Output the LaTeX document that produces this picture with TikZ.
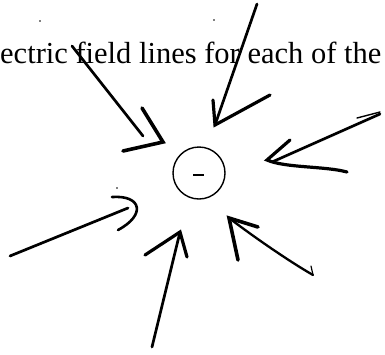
\documentclass[tikz,border=0pt]{standalone}
\usepackage{fontspec}
\setmainfont{Liberation Serif}
\usetikzlibrary{positioning}

\begin{document}
\begin{tikzpicture}[x=1pt, y=-1pt,
    shaft/.style={line width=2.7pt, line cap=round, line join=round},
    barbs/.style={line width=3.2pt, line cap=round, line join=miter, miter limit=4},
    speck/.style={circle, fill=black, minimum size=1.8pt, inner sep=0pt}]
    \useasboundingbox (0,0) rectangle (385,354);
    \node[anchor=base west, inner sep=0pt, font=\fontsize{30.5}{36}\selectfont] (title) at (0,63) {ectric field lines for each of the};
    \node[circle, draw, line width=1.4pt, minimum size=52pt, inner sep=0pt] (q) at (199,173) {};
    \draw[line width=1.3pt] ([xshift=-6pt,yshift=-2pt]q.center) -- ([xshift=5pt,yshift=-2pt]q.center);
    % specks
    \node[speck] (s1) at (40,21) {};
    \node[speck] (s2) at (214,20) {};
    \node[speck] (s3) at (117,188) {};
    % upper left
    \coordinate (ulA) at (72,46);
    \coordinate (ulB) at (143,136);
    \coordinate (ulT) at (163,142);
    \draw[shaft] (ulA) -- (ulB);
    \draw[barbs, line width=3.6pt] (142,108) -- (ulT) -- (123,151);
    % top
    \coordinate (tA) at (257,4);
    \coordinate (tT) at (215,125);
    \draw[shaft] (tA) -- (tT);
    \draw[barbs] (213,100) -- (tT) -- (270,95);
    % right
    \coordinate (rA) at (380,114);
    \coordinate (rT) at (267,160);
    \draw[shaft] (rA) -- ([xshift=5pt,yshift=-2pt]rT);
    \draw[shaft, line width=1.4pt] (357,118) -- (380,112);
    \draw[barbs] (290,140) -- (rT) .. controls (285,168) and (325,166) .. (347,172);
    % lower left
    \coordinate (llA) at (10,256);
    \coordinate (llT) at (128,208);
    \draw[shaft] (llA) -- (llT);
    \draw[barbs, line width=2.6pt] (112,197) .. controls (142,195) and (146,215) .. (118,230);
    % bottom
    \coordinate (bA) at (152,347);
    \coordinate (bT) at (180,232);
    \draw[shaft] (bA) -- (bT);
    \draw[barbs] (145,255) -- (bT) -- (187,257);
    % lower right
    \coordinate (lrA) at (313,275);
    \coordinate (lrT) at (229,218);
    \draw[shaft, line width=2.3pt] (lrA) .. controls (292,263) and (258,240) .. (lrT);
    \draw[shaft, line width=1.2pt] (lrA) -- (311,266);
    \draw[barbs, line width=3.6pt] (238,260) -- (lrT) -- (258,227);
\end{tikzpicture}
\end{document}
